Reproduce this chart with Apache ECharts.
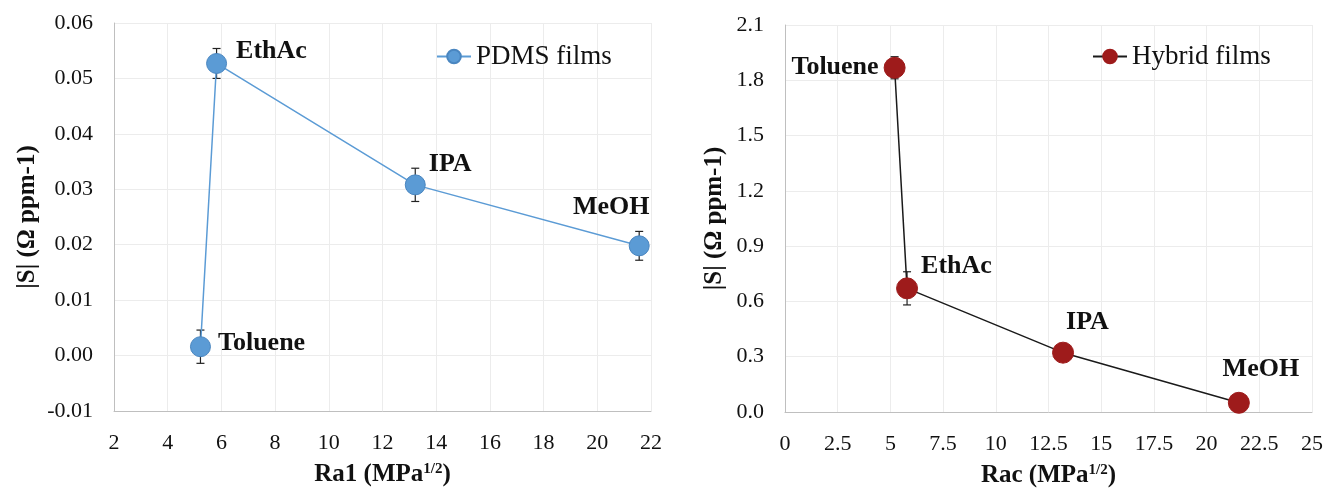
<!DOCTYPE html>
<html>
<head>
<meta charset="utf-8">
<script src="https://cdn.jsdelivr.net/npm/echarts@6/dist/echarts.min.js"></script>
<style>
html,body{margin:0;padding:0;background:#fff;}
#chart{width:1326px;height:489px;}
</style>
</head>
<body>
<div id="chart"></div>
<script>
// ---- Data ----
const solvents = ['Toluene', 'EthAc', 'IPA', 'MeOH'];
const pdmsRa = [5.22, 5.82, 13.22, 21.56];
const pdmsS = [0.0016, 0.0527, 0.0308, 0.0198];
const pdmsErr = [0.003, 0.0027, 0.003, 0.0026];
const hybridRa = [5.2, 5.79, 13.19, 21.53];
const hybridS = [1.868, 0.671, 0.322, 0.050];
const hybridErr = [0.06, 0.09, 0.02, 0.02];
const leftXTicks = {min: 2, max: 22, interval: 2};
const leftYTicks = {min: -0.01, max: 0.06, interval: 0.01};
const rightXTicks = {min: 0, max: 25, interval: 2.5};
const rightYTicks = {min: 0, max: 2.1, interval: 0.3};
const seriesNames = ['PDMS films', 'Hybrid films'];

// ---- Styling ----
const FONT = '"Liberation Serif", "Times New Roman", serif';
const gridColor = '#ececec';
const axisColor = '#bfbfbf';
const pdmsColor = '#5B9BD5';
const pdmsBorder = '#4A86C0';
const hybridColor = '#9E1B1B';

const leftLabelPos = [
  {position: 'right', offset: [2, -3]},
  {position: 'right', offset: [4, -12]},
  {position: 'right', offset: [-2, -21]},
  {position: 'top', offset: [-28, -10]}
];
const rightLabelPos = [
  {position: 'left', offset: [0, 0]},
  {position: 'right', offset: [-2, -22]},
  {position: 'right', offset: [-13, -30]},
  {position: 'top', offset: [22, -5]}
];

function points(xs, ys, pos) {
  return xs.map((x, i) => ({
    value: [x, ys[i]],
    name: solvents[i],
    label: {
      show: true,
      formatter: solvents[i],
      position: pos[i].position,
      offset: pos[i].offset,
      fontFamily: FONT, fontWeight: 'bold', fontSize: 26, color: '#111'
    }
  }));
}
function errData(xs, ys, es) {
  return xs.map((x, i) => [x, ys[i] - es[i], ys[i] + es[i]]);
}
function errRender(params, api) {
  const x = api.value(0);
  const lo = api.coord([x, api.value(1)]);
  const hi = api.coord([x, api.value(2)]);
  const cw = 4;
  const style = {stroke: '#222', lineWidth: 1.2, fill: null};
  return {
    type: 'group',
    children: [
      {type: 'line', shape: {x1: lo[0], y1: lo[1], x2: hi[0], y2: hi[1]}, style},
      {type: 'line', shape: {x1: lo[0] - cw, y1: lo[1], x2: lo[0] + cw, y2: lo[1]}, style},
      {type: 'line', shape: {x1: hi[0] - cw, y1: hi[1], x2: hi[0] + cw, y2: hi[1]}, style}
    ]
  };
}

const tickLabel = {fontFamily: FONT, fontSize: 22, color: '#111'};
function xAxis(gi, t, title) {
  return {
    type: 'value', gridIndex: gi, min: t.min, max: t.max, interval: t.interval,
    axisLine: {show: true, onZero: false, lineStyle: {color: axisColor, width: 1}},
    axisTick: {show: false},
    splitLine: {show: true, lineStyle: {color: gridColor, width: 1}},
    axisLabel: Object.assign({margin: 21}, tickLabel),
    name: '{b|' + title + ' (MPa}{s|1/2}{b|)}',
    nameLocation: 'middle', nameGap: 51,
    nameTextStyle: {
      rich: {
        b: {fontFamily: FONT, fontWeight: 'bold', fontSize: 25, color: '#111'},
        s: {fontFamily: FONT, fontWeight: 'bold', fontSize: 15, color: '#111', verticalAlign: 'top', padding: [0, 0, 10, 0]}
      }
    }
  };
}
function yAxis(gi, t, dec, gap) {
  return {
    type: 'value', gridIndex: gi, min: t.min, max: t.max, interval: t.interval,
    axisLine: {show: true, onZero: false, lineStyle: {color: axisColor, width: 1}},
    axisTick: {show: false},
    splitLine: {show: true, lineStyle: {color: gridColor, width: 1}},
    axisLabel: Object.assign({margin: 21, formatter: v => v.toFixed(dec)}, tickLabel),
    name: '|S| (Ω ppm-1)',
    nameLocation: 'middle', nameGap: gap, nameRotate: 90,
    nameTextStyle: {fontFamily: FONT, fontWeight: 'bold', fontSize: 25, color: '#111'}
  };
}

const legendText = {fontFamily: FONT, fontSize: 27, color: '#111'};
const option = {
  animation: false,
  backgroundColor: '#fff',
  grid: [
    {left: 114, top: 23, width: 537, height: 388, outerBoundsMode: 'none', containLabel: false},
    {left: 785, top: 25, width: 527, height: 387, outerBoundsMode: 'none', containLabel: false}
  ],
  xAxis: [xAxis(0, leftXTicks, 'Ra1'), xAxis(1, rightXTicks, 'Rac')],
  yAxis: [yAxis(0, leftYTicks, 2, 74), yAxis(1, rightYTicks, 1, 58)],
  legend: [
    {
      data: [seriesNames[0]], left: 431, top: 38, itemWidth: 34, itemHeight: 17, itemGap: 4,
      textStyle: legendText
    },
    {
      data: [seriesNames[1]], left: 1087, top: 38, itemWidth: 34, itemHeight: 17, itemGap: 4,
      textStyle: legendText
    }
  ],
  series: [
    {
      type: 'custom', xAxisIndex: 0, yAxisIndex: 0, renderItem: errRender,
      data: errData(pdmsRa, pdmsS, pdmsErr), z: 1, silent: true
    },
    {
      type: 'custom', xAxisIndex: 1, yAxisIndex: 1, renderItem: errRender,
      data: errData(hybridRa, hybridS, hybridErr), z: 1, silent: true
    },
    {
      name: seriesNames[0], type: 'line', xAxisIndex: 0, yAxisIndex: 0, z: 3,
      symbol: 'circle', symbolSize: 20,
      lineStyle: {color: pdmsColor, width: 1.5},
      itemStyle: {color: pdmsColor, borderColor: pdmsBorder, borderWidth: 1},
      data: points(pdmsRa, pdmsS, leftLabelPos)
    },
    {
      name: seriesNames[1], type: 'line', xAxisIndex: 1, yAxisIndex: 1, z: 3,
      symbol: 'circle', symbolSize: 21,
      lineStyle: {color: '#1a1a1a', width: 1.5},
      itemStyle: {color: hybridColor, borderColor: hybridColor, borderWidth: 1},
      data: points(hybridRa, hybridS, rightLabelPos)
    }
  ]
};
const chart = echarts.init(document.getElementById('chart'), null, {renderer: 'canvas'});
chart.setOption(option);
</script>
</body>
</html>
